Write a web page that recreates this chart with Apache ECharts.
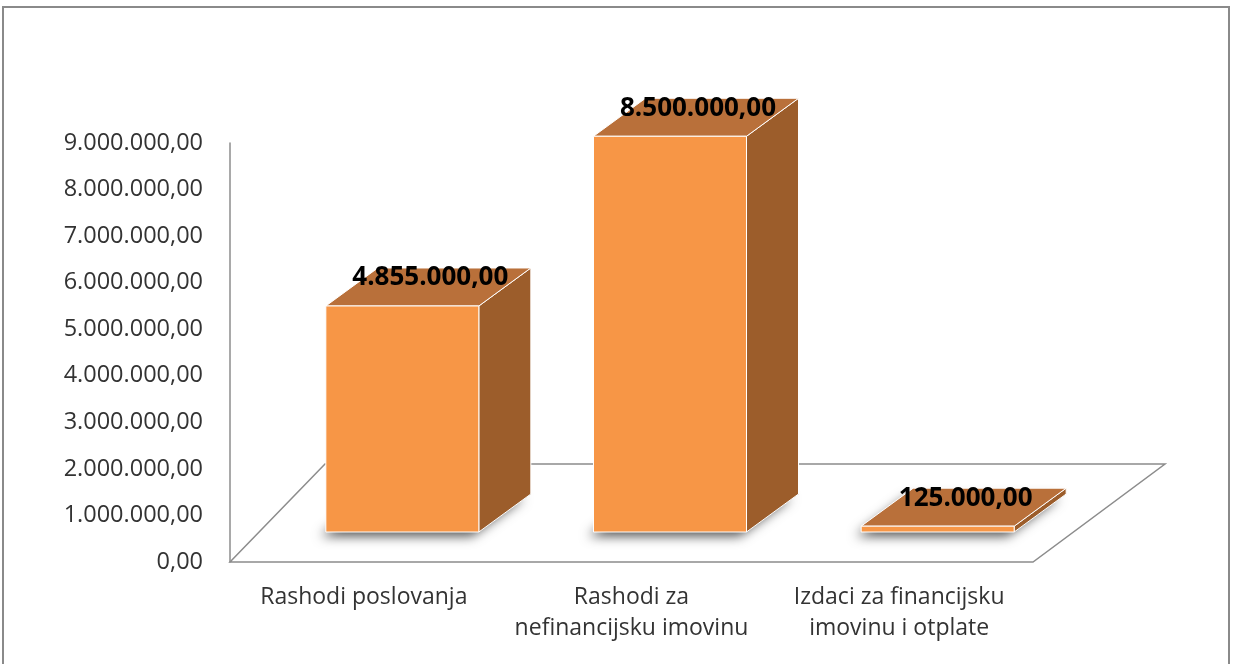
<!DOCTYPE html>
<html>
<head>
<meta charset="utf-8">
<script src="https://cdn.jsdelivr.net/npm/echarts@6/dist/echarts.min.js"></script>
<style>
  html, body { margin: 0; padding: 0; background: #fff; }
  #chart { width: 1234px; height: 664px; }
</style>
</head>
<body>
<div id="chart"></div>
<script>
var categories = ['Rashodi poslovanja', 'Rashodi za\nnefinancijsku imovinu', 'Izdaci za financijsku\nimovinu i otplate'];
var values = [4855000, 8500000, 125000];
var yTicks = [0, 1000000, 2000000, 3000000, 4000000, 5000000, 6000000, 7000000, 8000000, 9000000];

// hr format: 1.234.567,00
function fmt(v) {
    var s = Math.round(v).toString().replace(/\B(?=(\d{3})+(?!\d))/g, '.');
    return s + ',00';
}

var dom = document.getElementById('chart');
var myChart = echarts.init(dom);

var depthX = 52, depthY = -38;   // pomak dubine kvadra
var sink = 30;                   // koliko su stupci uvučeni od prednjeg ruba poda

option = {
    animation: false,
    graphic: [{
        type: 'rect',
        shape: { x: 3, y: 7, width: 1226, height: 664 },
        style: { fill: 'none', stroke: '#8a8a8a', lineWidth: 2 },
        silent: true
    }],
    grid: { left: 230, top: 143, width: 803, height: 419 },
    xAxis: {
        type: 'category',
        data: categories,
        axisLine: { show: false },
        axisTick: { show: false },
        axisLabel: {
            interval: 0,
            margin: 20,
            fontFamily: 'Open Sans',
            fontSize: 23,
            lineHeight: 31,
            color: '#333333',
            align: 'center'
        }
    },
    yAxis: {
        type: 'value',
        min: 0,
        max: yTicks[yTicks.length - 1],
        interval: yTicks[1] - yTicks[0],
        splitLine: { show: false },
        axisTick: { show: false },
        axisLine: { show: true, lineStyle: { color: '#8c8c8c', width: 1.5 } },
        axisLabel: {
            margin: 27,
            fontFamily: 'Open Sans',
            fontSize: 23.5,
            color: '#333333',
            formatter: fmt
        }
    },
    series: [{
        // pod (floor)
        type: 'custom',
        data: [[0]],
        silent: true,
        z: 1,
        renderItem: function (params, api) {
            var cs = params.coordSys;
            var bx = cs.x, by = cs.y + cs.height;
            return {
                type: 'polygon',
                shape: { points: [[bx, by], [bx + cs.width, by], [bx + cs.width + 132, by - 98], [bx + 95, by - 98]] },
                style: { fill: '#ffffff', stroke: '#8c8c8c', lineWidth: 1.5 }
            };
        }
    }, {
        // 3D stupci
        type: 'custom',
        data: values.map(function (v, i) { return [i, v]; }),
        z: 3,
        renderItem: function (params, api) {
            var i = api.value(0);
            var v = api.value(1);
            var base = api.coord([i, 0]);
            var top = api.coord([i, v]);
            var x0 = base[0] - 38, x1 = x0 + 153;
            var yb = base[1] - sink, yt = top[1] - sink;
            var edge = { stroke: '#ffffff', lineWidth: 1 };
            return {
                type: 'group',
                children: [{
                    type: 'polygon',
                    shape: { points: [[x0 + 2, yb], [x1, yb], [x1 + depthX, yb + depthY], [x0 + depthX, yb + depthY]] },
                    style: { fill: '#6e6e6e', shadowBlur: 12, shadowColor: 'rgba(0,0,0,0.7)', shadowOffsetX: -7, shadowOffsetY: 4 }
                }, {
                    type: 'polygon',
                    shape: { points: [[x1, yb], [x1 + depthX, yb + depthY], [x1 + depthX, yt + depthY], [x1, yt]] },
                    style: echarts.util.extend({ fill: '#9c5d2b' }, edge)
                }, {
                    type: 'polygon',
                    shape: { points: [[x0, yt], [x1, yt], [x1 + depthX, yt + depthY], [x0 + depthX, yt + depthY]] },
                    style: echarts.util.extend({ fill: '#b9703a' }, edge)
                }, {
                    type: 'rect',
                    shape: { x: x0, y: yt, width: 153, height: yb - yt },
                    style: echarts.util.extend({ fill: '#f79646' }, edge)
                }, {
                    type: 'text',
                    x: (x0 + x1) / 2 + depthX / 2 + 2,
                    y: yt + depthY / 2 - 9,
                    style: {
                        text: fmt(v),
                        fontFamily: 'Open Sans',
                        fontWeight: 'bold',
                        fontSize: 26,
                        fill: '#000000',
                        align: 'center',
                        verticalAlign: 'middle'
                    }
                }]
            };
        }
    }]
};

if (option && typeof option === 'object') {
    myChart.setOption(option, true);
}
</script>
</body>
</html>
